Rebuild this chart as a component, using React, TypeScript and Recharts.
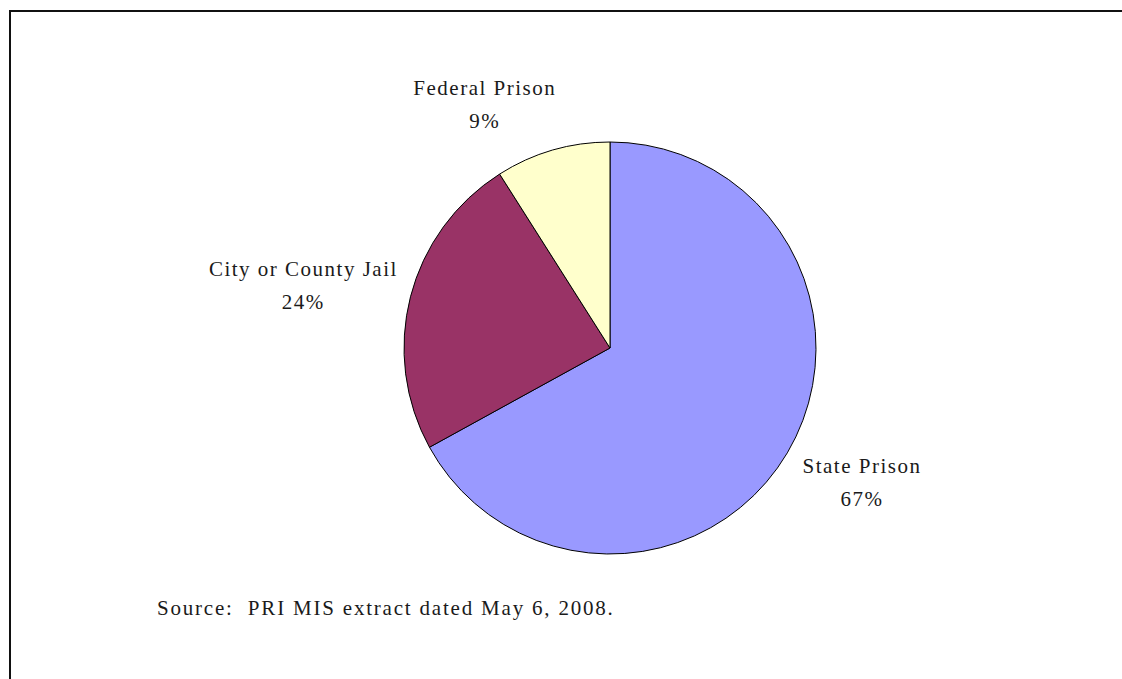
import React from 'react';
import { PieChart, Pie, Cell } from 'recharts';

const categories = ['State Prison', 'City or County Jail', 'Federal Prison'];
const shares = [67, 24, 9];
const COLORS = ['#9999ff', '#993366', '#ffffcc'];

const data = categories.map((name, i) => ({ name, value: shares[i] }));

// small per-label nudges from the slice's outer point, Excel-ish placement
const labelNudge: Record<string, [number, number]> = {
  'State Prison': [23, -10],
  'City or County Jail': [-49, -6],
  'Federal Prison': [-51, 2],
};

const RAD = Math.PI / 180;
const FONT = '"Liberation Serif", "Times New Roman", serif';

const renderLabel = (props: any) => {
  const { cx, cy, midAngle, outerRadius, name, value } = props;
  const r = outerRadius + 60;
  const [dx, dy] = labelNudge[name] || [0, 0];
  const x = cx + r * Math.cos(-midAngle * RAD) + dx;
  const y = cy + r * Math.sin(-midAngle * RAD) + dy;
  return (
    <text x={x} y={y} textAnchor="middle" fontFamily={FONT} fontSize={21} letterSpacing={1.5} fill="#1a1a1a">
      <tspan x={x} dy={0}>{name}</tspan>
      <tspan x={x} dy={33}>{value}%</tspan>
    </text>
  );
};

function App() {
  return (
    <div style={{ position: 'fixed', left: 0, top: 0, width: 1122, height: 679, background: '#fff', overflow: 'hidden' }}>
      <div style={{ position: 'absolute', left: 9, top: 10, width: 1140, height: 700, border: '2px solid #111' }} />
      <div style={{ position: 'absolute', left: 0, top: 0 }}>
        <PieChart width={1122} height={679} margin={{ top: 0, right: 0, bottom: 0, left: 0 }}>
          <Pie
            data={data}
            dataKey="value"
            nameKey="name"
            cx={610}
            cy={348}
            outerRadius={206}
            startAngle={90}
            endAngle={-270}
            stroke="#000"
            strokeWidth={1}
            label={renderLabel}
            labelLine={false}
            isAnimationActive={false}
          >
            {data.map((entry, index) => (
              <Cell key={`cell-${index}`} fill={COLORS[index % COLORS.length]} />
            ))}
          </Pie>
        </PieChart>
      </div>
      <div
        style={{
          position: 'absolute',
          left: 157,
          top: 596,
          fontFamily: FONT,
          fontSize: 21,
          letterSpacing: 1.8,
          color: '#1a1a1a',
          whiteSpace: 'pre',
        }}
      >
        Source:  PRI MIS extract dated May 6, 2008.
      </div>
    </div>
  );
}

export default App;
